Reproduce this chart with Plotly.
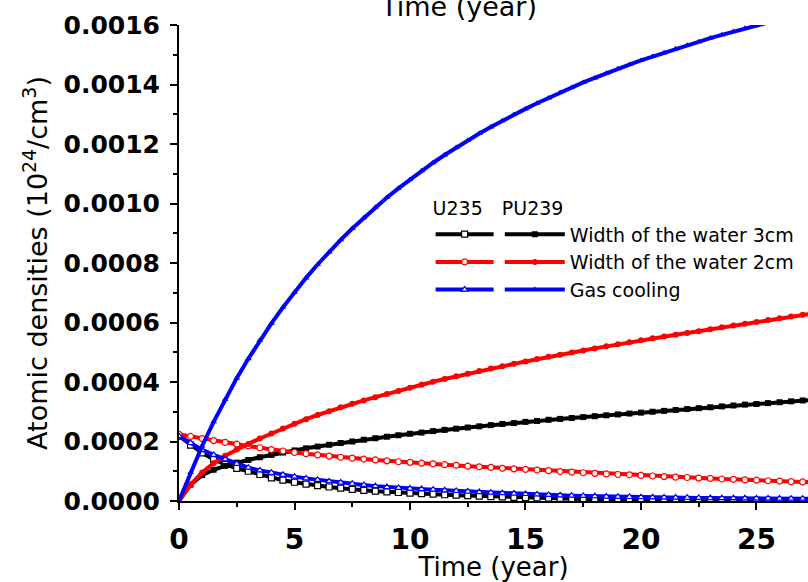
import plotly.graph_objects as go

UNIT = 1e-4  # values below are in units of 1e-4 (10^24/cm^3)

years = [0, 0.5, 1, 1.5, 2, 2.5, 3, 3.5, 4, 4.5, 5, 5.5, 6, 6.5, 7, 7.5, 8, 8.5, 9, 9.5,
         10, 10.5, 11, 11.5, 12, 12.5, 13, 13.5, 14, 14.5, 15, 15.5, 16, 16.5, 17, 17.5,
         18, 18.5, 19, 19.5, 20, 20.5, 21, 21.5, 22, 22.5, 23, 23.5, 24, 24.5, 25, 25.5,
         26, 26.5, 27, 27.5]

u235_water3 = [2.18, 1.88, 1.62, 1.40, 1.23, 1.10, 1.00, 0.89, 0.78, 0.70, 0.63, 0.57, 0.52, 0.47,
               0.43, 0.39, 0.36, 0.33, 0.31, 0.285, 0.265, 0.245, 0.23, 0.21, 0.195, 0.18, 0.165,
               0.15, 0.14, 0.125, 0.115, 0.105, 0.095, 0.085, 0.075, 0.068, 0.062, 0.056, 0.051,
               0.047, 0.043, 0.039, 0.036, 0.033, 0.030, 0.028, 0.026, 0.024, 0.022, 0.020, 0.019,
               0.018, 0.017, 0.016, 0.015, 0.014]
pu239_water3 = [0, 0.55, 0.87, 1.05, 1.18, 1.29, 1.38, 1.47, 1.55, 1.63, 1.70, 1.77, 1.83, 1.89,
                1.95, 2.00, 2.06, 2.11, 2.16, 2.21, 2.26, 2.30, 2.35, 2.39, 2.43, 2.47, 2.51, 2.55,
                2.59, 2.62, 2.66, 2.69, 2.73, 2.76, 2.79, 2.82, 2.85, 2.88, 2.91, 2.94, 2.97, 3.00,
                3.03, 3.06, 3.09, 3.12, 3.15, 3.18, 3.21, 3.24, 3.26, 3.29, 3.32, 3.35, 3.38, 3.40]
u235_water2 = [2.24, 2.17, 2.10, 2.03, 1.97, 1.91, 1.85, 1.79, 1.73, 1.68, 1.63, 1.59, 1.55, 1.51,
               1.47, 1.44, 1.41, 1.38, 1.35, 1.32, 1.30, 1.27, 1.25, 1.22, 1.20, 1.17, 1.15, 1.13,
               1.10, 1.08, 1.06, 1.04, 1.02, 0.99, 0.97, 0.95, 0.93, 0.91, 0.89, 0.88, 0.86, 0.84,
               0.82, 0.80, 0.79, 0.77, 0.76, 0.74, 0.73, 0.71, 0.70, 0.68, 0.67, 0.65, 0.64, 0.63]
pu239_water2 = [0, 0.55, 0.96, 1.27, 1.52, 1.73, 1.92, 2.10, 2.27, 2.44, 2.60, 2.75, 2.89, 3.02,
                3.15, 3.27, 3.38, 3.49, 3.60, 3.70, 3.81, 3.91, 4.01, 4.10, 4.19, 4.28, 4.37, 4.45,
                4.53, 4.61, 4.69, 4.77, 4.85, 4.92, 4.99, 5.06, 5.13, 5.20, 5.27, 5.34, 5.40, 5.47,
                5.53, 5.59, 5.65, 5.71, 5.77, 5.84, 5.90, 5.96, 6.02, 6.08, 6.14, 6.20, 6.26, 6.31]
u235_gas = [2.18, 1.95, 1.72, 1.55, 1.40, 1.25, 1.12, 1.03, 0.95, 0.88, 0.82, 0.76, 0.71, 0.66,
            0.62, 0.58, 0.54, 0.50, 0.47, 0.44, 0.42, 0.40, 0.38, 0.36, 0.34, 0.32, 0.30, 0.28,
            0.265, 0.25, 0.235, 0.22, 0.205, 0.19, 0.18, 0.17, 0.16, 0.15, 0.14, 0.135, 0.13,
            0.125, 0.12, 0.115, 0.11, 0.105, 0.10, 0.097, 0.094, 0.091, 0.088, 0.085, 0.082,
            0.079, 0.077, 0.075]
pu239_gas = [0, 0.96, 1.85, 2.66, 3.42, 4.13, 4.78, 5.40, 5.97, 6.51, 7.02, 7.50, 7.95, 8.37,
             8.78, 9.16, 9.52, 9.87, 10.20, 10.51, 10.81, 11.10, 11.37, 11.63, 11.88, 12.12,
             12.35, 12.57, 12.78, 12.99, 13.18, 13.37, 13.55, 13.73, 13.90, 14.07, 14.22, 14.38,
             14.53, 14.67, 14.81, 14.94, 15.07, 15.20, 15.32, 15.44, 15.56, 15.67, 15.78, 15.89,
             15.99, 16.09, 16.19, 16.29, 16.38, 16.47]

series_names = ["Width of the water 3cm", "Width of the water 2cm", "Gas cooling"]
series_colors = ["#000000", "#ff0000", "#0000ff"]
series_symbols = ["square", "circle", "triangle-up"]
u235_sets = [u235_water3, u235_water2, u235_gas]
pu239_sets = [pu239_water3, pu239_water2, pu239_gas]

LABEL_FONT = "DejaVu Sans"

fig = go.Figure()
for name, color, sym, u, p in zip(series_names, series_colors, series_symbols, u235_sets, pu239_sets):
    fig.add_trace(go.Scatter(
        x=years, y=[v * UNIT for v in u], mode="lines+markers", name="",
        line=dict(color=color, width=4),
        marker=dict(symbol=sym, size=6, color="white", line=dict(color=color, width=1.2)),
        legend="legend"))
    fig.add_trace(go.Scatter(
        x=years, y=[v * UNIT for v in p], mode="lines+markers", name=name,
        line=dict(color=color, width=4),
        marker=dict(symbol=sym, size=6, color=color),
        legend="legend2"))

axis_common = dict(showline=True, linecolor="black", linewidth=2, ticks="outside",
                   ticklen=7, tickwidth=2, tickcolor="black", showgrid=False, zeroline=False,
                   mirror=False)

fig.update_layout(
    width=808, height=582,
    margin=dict(l=179, r=0, t=25, b=81),
    paper_bgcolor="white", plot_bgcolor="white",
    xaxis=dict(range=[0, 27.23], dtick=5, tick0=0,
               minor=dict(dtick=2.5, ticks="outside", ticklen=4, tickwidth=2, tickcolor="black"),
               tickfont=dict(family=LABEL_FONT, size=28, color="black", weight="bold"),
               ticklabelstandoff=5,
               title=dict(text="Time (year)", font=dict(family=LABEL_FONT, size=26, color="black"),
                          standoff=6),
               **axis_common),
    yaxis=dict(range=[0, 0.0016], dtick=0.0002, tick0=0, tickformat=".4f",
               minor=dict(dtick=0.0001, ticks="outside", ticklen=4, tickwidth=2, tickcolor="black"),
               tickfont=dict(family=LABEL_FONT, size=25, color="black", weight="bold"),
               ticklabelstandoff=5,
               title=dict(text="Atomic densities (10<sup>24</sup>/cm<sup>3</sup>)",
                          font=dict(family=LABEL_FONT, size=27, color="black"), standoff=8),
               **axis_common),
    legend=dict(x=0.40, y=0.652, xanchor="left", yanchor="top", bgcolor="rgba(0,0,0,0)",
                font=dict(family=LABEL_FONT, size=19, color="black"),
                title=dict(text="U235", font=dict(family=LABEL_FONT, size=19, color="black")),
                itemwidth=58, tracegroupgap=0),
    legend2=dict(x=0.51, y=0.652, xanchor="left", yanchor="top", bgcolor="rgba(0,0,0,0)",
                 font=dict(family=LABEL_FONT, size=19, color="black"),
                 title=dict(text="PU239", font=dict(family=LABEL_FONT, size=19, color="black")),
                 itemwidth=60, tracegroupgap=0),
    showlegend=True,
    annotations=[dict(text="Time (year)", xref="paper", yref="paper", x=0.445, y=1,
                      xanchor="center", yanchor="bottom", yshift=1, showarrow=False,
                      font=dict(family=LABEL_FONT, size=27, color="black"))],
)

fig.write_html("out.html")
